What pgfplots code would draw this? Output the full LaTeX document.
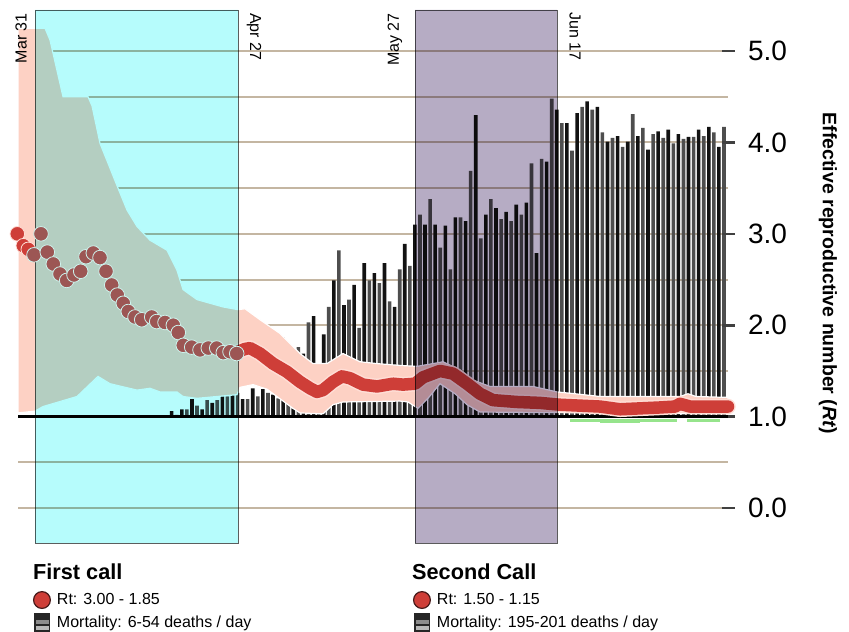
\documentclass[border=0pt]{standalone}
\usepackage{fontspec}
\setmainfont{Liberation Sans}
\usepackage{pgfplots}
\usepackage{pgfplotstable}
\pgfplotsset{compat=1.18}

\definecolor{cyanbox}{RGB}{182,252,252}
\definecolor{purplebox}{RGB}{182,172,196}
\definecolor{boxedge}{RGB}{95,95,95}
\definecolor{bandpink}{RGB}{253,209,196}
\definecolor{rtred}{RGB}{206,62,56}
\definecolor{rtbrown}{RGB}{156,86,84}
\definecolor{rtedge}{RGB}{70,25,25}
\definecolor{lineedge}{RGB}{255,222,214}
\definecolor{cyanedge}{RGB}{205,242,236}
\definecolor{gridtan}{RGB}{196,182,162}
\definecolor{barblack}{RGB}{18,18,18}
\definecolor{bargray}{RGB}{78,78,78}
\definecolor{lowgreen}{RGB}{150,228,140}

% daily deaths bars, height above the Rt = 1 line (k = day index)
\pgfplotstableread{
k h
0 0.06
1 0.02
2 0.08
3 0.08
4 0.19
5 0.12
6 0.08
7 0.18
8 0.15
9 0.18
10 0.22
11 0.22
12 0.25
13 0.26
14 0.19
15 0.19
16 0.31
17 0.22
18 0.30
19 0.26
20 0.24
21 0.20
22 0.87
23 0.15
24 0.09
25 0.76
26 0.69
27 1.03
28 1.10
29 0.40
30 0.90
31 1.20
32 1.49
33 1.82
34 1.22
35 1.28
36 1.44
37 0.97
38 1.68
39 1.49
40 1.57
41 1.46
42 1.68
43 1.26
44 1.20
45 1.61
46 1.89
47 1.65
48 2.10
49 2.21
50 2.10
51 2.38
52 2.10
53 1.85
54 2.09
55 1.61
56 2.18
57 2.18
58 2.14
59 2.69
60 3.30
61 1.95
62 2.21
63 2.38
64 2.28
65 2.16
66 2.24
67 2.14
68 2.32
69 2.21
70 2.34
71 2.77
72 1.79
73 2.82
74 2.79
75 3.48
76 3.36
77 3.21
78 3.21
79 2.91
80 3.32
81 3.39
82 3.45
83 3.36
84 3.39
85 3.11
86 3.01
87 3.05
88 3.07
89 2.95
90 3.01
91 3.31
92 3.07
93 3.16
94 2.92
95 3.09
96 3.12
97 3.05
98 3.14
99 2.99
100 3.09
101 3.04
102 3.06
103 3.06
104 3.14
105 3.07
106 3.17
107 3.11
108 2.95
109 3.17
}\deaths

\pgfplotsset{
  chartframe/.style={at={(18pt,89pt)}, anchor=south west, width=710pt, height=533pt,
    scale only axis, clip=false},
  calllegend/.style={legend cell align=left,
    legend style={draw=none, fill=none, inner sep=0pt, outer sep=0pt, row sep=4.4pt,
      font=\fontsize{16}{19}\selectfont, nodes={inner sep=0pt},
      /tikz/every odd column/.append style={column sep=6pt}}},
  rtdot/.style={legend image code/.code={\draw[fill=rtred, draw=rtedge, line width=1.2pt] (0pt,0pt) circle (8.4pt);}},
  baricon/.style={legend image code/.code={%
    \fill[black!85] (-7.3pt,-9pt) rectangle (7.3pt,9pt);
    \fill[black!45] (-5.8pt,-1pt) rectangle (5.8pt,2.5pt);
    \fill[black!28] (-5.8pt,-7pt) rectangle (5.8pt,-3.2pt);}},
}
\tikzset{calltitle/.style={anchor=base west, inner sep=0pt, font=\fontsize{21.7}{24}\selectfont\bfseries}}

\begin{document}
\begin{tikzpicture}
\useasboundingbox (0,0) rectangle (849pt,632pt);

% grid + mortality bars (y = Rt - 1)
\begin{axis}[chartframe,
  xmin=-30.33, xmax=109.79, ymin=-1.383, ymax=4.449,
  xtick=\empty, ytick={-1,-0.5,...,4}, yticklabels={}, major tick length=0pt,
  axis line style={draw=none},
  ymajorgrids, grid style={gridtan, line width=2pt},
  calllegend, legend style={at={(rel axis cs:0.0211,-0.0901)}, anchor=north west}]
\addplot[ybar, bar width=3.6pt, bar shift=0pt, fill=barblack, draw=none, forget plot,
  restrict expr to domain={mod(x,2)}{-0.1:0.1}] table[x=k, y=h] {\deaths};
\addplot[ybar, bar width=3.6pt, bar shift=0pt, fill=bargray, draw=none, forget plot,
  restrict expr to domain={mod(x,2)}{0.9:1.1}] table[x=k, y=h] {\deaths};
\node[calltitle] at (rel axis cs:0.0211,-0.0694) {First call};
\addlegendimage{rtdot}
\addlegendentry{Rt: 3.00 - 1.85}
\addlegendimage{baricon}
\addlegendentry{Mortality: 6-54 deaths / day}
\end{axis}

% Rt estimate, bands, call periods
\begin{axis}[chartframe,
  xmin=18, xmax=728, ymin=-0.383, ymax=5.449,
  axis x line=none, axis y line*=right, axis line style={draw=none},
  ytick={0,1,...,5}, tick align=center, major tick length=13pt,
  major tick style={line width=2.6pt, black!75},
  /pgf/number format/assume math mode=true,
  yticklabel style={font=\fontsize{28}{32}\selectfont, xshift=10pt,
    /pgf/number format/fixed, /pgf/number format/fixed zerofill,
    /pgf/number format/precision=1},
  calllegend, legend style={at={(rel axis cs:0.5563,-0.0901)}, anchor=north west}]

% credible band
\addplot[fill=bandpink, draw=white, line width=1.2pt, forget plot] coordinates {
(18,5.25) (45,5.25) (50,5.12) (63,4.50) (88,4.50) (92,4.40) (100,3.99) (118,3.50)
(127,3.26) (137,3.08) (150,2.93) (167,2.82) (177,2.60) (183,2.39) (197,2.28)
(210,2.24) (223,2.20) (238,2.17) (245,2.18) (260,2.06) (280,1.91) (300,1.69)
(313,1.58) (327,1.58) (343,1.69) (360,1.60) (377,1.58) (400,1.56) (417,1.55)
(433,1.58) (443,1.60) (460,1.51) (473,1.40) (490,1.33) (533,1.33) (557,1.27)
(575,1.25) (600,1.22) (680,1.22) (688,1.25) (696,1.22) (728,1.21)
(728,1.03) (480,1.05) (467,1.13) (455,1.25) (440,1.36) (428,1.20) (418,1.09)
(408,1.16) (400,1.17) (343,1.16) (333,1.13) (323,1.03) (300,1.04) (293,1.09)
(267,1.30) (253,1.35) (240,1.32) (237,1.24) (217,1.22) (197,1.20) (183,1.22)
(177,1.27) (160,1.27) (150,1.31) (137,1.29) (110,1.36) (98,1.44) (77,1.22)
(43,1.11) (35,1.06) (18,1.04) (18,5.25)};

% lower band below 1
\addplot[lowgreen, line width=2.5pt, forget plot] coordinates {(570,0.955) (677,0.955)};
\addplot[lowgreen, line width=4pt, forget plot] coordinates {(600,0.95) (640,0.95)};
\addplot[lowgreen, line width=2.5pt, forget plot] coordinates {(687,0.955) (720,0.955)};

% Rt = 1 line
\addplot[black, line width=3pt, forget plot] coordinates {(18,1) (728,1)};

% Rt estimate
\addplot[lineedge, line width=15.5pt, line join=round, line cap=round, forget plot] coordinates {
(238,1.71) (245,1.74) (250,1.75) (260,1.69) (273,1.58) (287,1.49) (300,1.38)
(310,1.31) (317,1.27) (323,1.29) (333,1.38) (342,1.44) (350,1.42) (363,1.35)
(377,1.33) (393,1.36) (403,1.35) (415,1.36) (423,1.43) (440,1.50) (453,1.47)
(467,1.36) (480,1.25) (493,1.18) (517,1.16) (540,1.15) (560,1.13) (600,1.11)
(620,1.08) (640,1.09) (660,1.10) (675,1.11) (680,1.14) (690,1.11) (728,1.11)};
\addplot[rtred, line width=12.5pt, line join=round, line cap=round, forget plot] coordinates {
(238,1.71) (245,1.74) (250,1.75) (260,1.69) (273,1.58) (287,1.49) (300,1.38)
(310,1.31) (317,1.27) (323,1.29) (333,1.38) (342,1.44) (350,1.42) (363,1.35)
(377,1.33) (393,1.36) (403,1.35) (415,1.36) (423,1.43) (440,1.50) (453,1.47)
(467,1.36) (480,1.25) (493,1.18) (517,1.16) (540,1.15) (560,1.13) (600,1.11)
(620,1.08) (640,1.09) (660,1.10) (675,1.11) (680,1.14) (690,1.11) (728,1.11)};

% call periods
\addplot[fill=cyanbox, draw=boxedge, line width=0.9pt, blend mode=multiply, forget plot]
  coordinates {(35,-0.383) (238,-0.383) (238,5.449) (35,5.449) (35,-0.383)};
\addplot[fill=purplebox, draw=boxedge, line width=0.9pt, blend mode=multiply, forget plot]
  coordinates {(415,-0.383) (557,-0.383) (557,5.449) (415,5.449) (415,-0.383)};

% daily Rt points (markers are laid over the shading, so coloured as seen)
\addplot[only marks, mark=*, mark size=7.3pt,
  mark options={fill=rtred, draw=lineedge, line width=0.8pt}, forget plot] coordinates {
(17.3,3.00) (23.3,2.87) (28.3,2.83)};
\addplot[only marks, mark=*, mark size=7.3pt,
  mark options={fill=rtbrown, draw=cyanedge, line width=0.8pt}, forget plot] coordinates {
(34,2.77) (41,3.00) (47.3,2.80) (53.3,2.67)
(60,2.56) (66.7,2.49) (74,2.55) (80.7,2.59) (86,2.75) (93.3,2.79) (100,2.74)
(106,2.59) (111.7,2.44) (117.3,2.33) (123.3,2.24) (128.3,2.15) (135,2.09)
(141.7,2.06) (151.7,2.09) (156.7,2.04) (165,2.03) (173.3,2.00) (178.3,1.92)
(183.3,1.78) (191.7,1.76) (200,1.73) (208.3,1.75) (216.7,1.75) (223.3,1.70)
(230,1.71) (236.7,1.69)};

% dates
\node[rotate=90, anchor=east, inner sep=0pt, font=\fontsize{16}{18}\selectfont] at (axis cs:21,5.416) {Mar 31};
\node[rotate=-90, anchor=west, inner sep=0pt, font=\fontsize{16}{18}\selectfont] at (axis cs:254,5.416) {Apr 27};
\node[rotate=90, anchor=east, inner sep=0pt, font=\fontsize{16}{18}\selectfont] at (axis cs:395,5.416) {May 27};
\node[rotate=-90, anchor=west, inner sep=0pt, font=\fontsize{16}{18}\selectfont] at (axis cs:575,5.427) {Jun 17};

% axis title
\node[rotate=-90, font=\fontsize{19.5}{22}\selectfont\bfseries] at (rel axis cs:1.1408,0.5056)
  {Effective reproductive number (\textit{Rt})};

\node[calltitle] at (rel axis cs:0.5549,-0.0694) {Second Call};
\addlegendimage{rtdot}
\addlegendentry{Rt: 1.50 - 1.15}
\addlegendimage{baricon}
\addlegendentry{Mortality: 195-201 deaths / day}
\end{axis}
\end{tikzpicture}
\end{document}
